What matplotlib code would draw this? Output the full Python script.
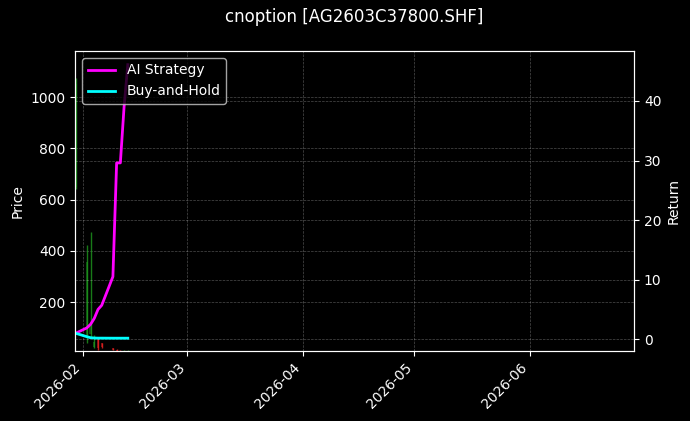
import pandas as pd
import matplotlib.pyplot as plt
import matplotlib.dates as mdates

plt.style.use('dark_background')

# candle data
dates = pd.to_datetime(['2026-01-30', '2026-02-02', '2026-02-03', '2026-02-04',
                        '2026-02-05', '2026-02-06', '2026-02-09', '2026-02-10',
                        '2026-02-11', '2026-02-12', '2026-02-13'])
opens = [650, 60, 75, 25, 55, 40, 20, 15, 13, 12, 12]
highs = [1075, 423, 473, 71, 60, 42, 22, 16, 14, 13, 13]
lows = [640, 40, 60, 20, 13, 22, 12, 10, 11, 11, 11]
closes = [1050, 356, 110, 45, 20, 25, 14, 11, 12, 12, 12]

# equity curves
ai_strategy = [1.0, 1.9, 2.5, 3.5, 5.0, 5.7, 10.5, 29.6, 29.6, 39.0, 46.1]
buy_hold = [1.0, 0.42, 0.25, 0.2, 0.18, 0.18, 0.17, 0.17, 0.17, 0.17, 0.17]

fig, ax = plt.subplots(figsize=(6.9, 4.21), dpi=100)
fig.subplots_adjust(left=0.109, right=0.919, bottom=0.166, top=0.879)

# candles
for d, o, h, l, c in zip(dates, opens, highs, lows, closes):
    col = '#1f9a1f' if c >= o else '#ee2222'
    ax.vlines(d, l, h, color=col, linewidth=1, alpha=0.8)
    ax.bar(d, abs(c - o), bottom=min(o, c), width=0.6, color=col, alpha=0.5)

ax.set_ylabel('Price')
ax.set_ylim(9, 1180)
ax.set_xlim(pd.Timestamp('2026-01-29 21:00'), pd.Timestamp('2026-06-29'))
ax.grid(True, linestyle='--', linewidth=0.5, alpha=0.3)

ax2 = ax.twinx()
ax2.plot(dates, ai_strategy, color='magenta', linewidth=2, label='AI Strategy')
ax2.plot(dates, buy_hold, color='cyan', linewidth=2, label='Buy-and-Hold')
ax2.set_ylabel('Return')
ax2.set_ylim(-2.0, 48.4)
ax2.grid(True, linestyle='--', linewidth=0.5, alpha=0.3)
ax2.legend(loc='upper left')

ax.xaxis.set_major_locator(mdates.MonthLocator())
ax.xaxis.set_major_formatter(mdates.DateFormatter('%Y-%m'))
plt.setp(ax.get_xticklabels(), rotation=45, ha='right')

fig.suptitle('cnoption [AG2603C37800.SHF]', x=0.513)

fig.savefig('out.png', dpi=100, facecolor='black')
